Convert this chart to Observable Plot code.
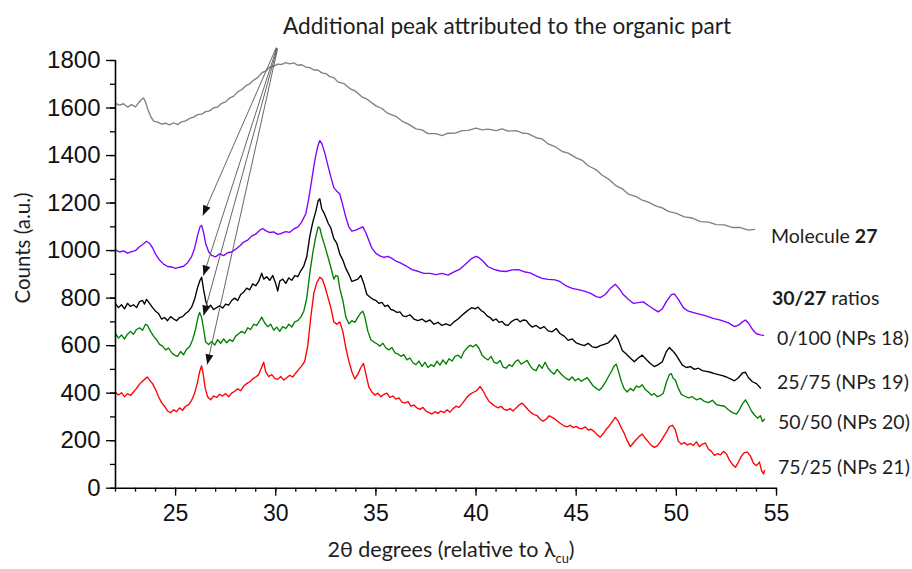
<!DOCTYPE html>
<html>
<head>
<meta charset="utf-8">
<script src="https://cdn.jsdelivr.net/npm/d3@7"></script>
<script src="https://cdn.jsdelivr.net/npm/@observablehq/plot@0.6"></script>
<style>
  html, body { margin: 0; padding: 0; background: #fff; }
  #wrap { position: relative; width: 912px; height: 569px; overflow: hidden; }
  .lbl { position: absolute; font-family: Lato, "Open Sans", sans-serif; color: #1e1e1e; line-height: 1; white-space: nowrap; transform: translateY(-50%); }
</style>
</head>
<body>
<div id="wrap"></div>
<script>
// ---- Data (2θ degrees, counts) ----
const molecule27 = [[22.0,1620],[22.2,1612],[22.4,1618],[22.6,1604],[22.8,1614],[23.0,1605],[23.15,1622],[23.3,1636],[23.4,1642],[23.5,1626],[23.6,1598],[23.75,1566],[23.9,1545],[24.1,1541],[24.3,1532],[24.5,1536],[24.7,1529],[24.9,1538],[25.1,1530],[25.3,1542],[25.5,1546],[25.7,1556],[25.9,1562],[26.1,1572],[26.3,1574],[26.5,1585],[26.7,1588],[26.9,1601],[27.1,1604],[27.3,1620],[27.5,1626],[27.7,1642],[27.9,1650],[28.1,1668],[28.3,1677],[28.5,1693],[28.7,1702],[28.9,1718],[29.1,1728],[29.3,1748],[29.5,1756],[29.7,1772],[29.9,1776],[30.1,1785],[30.3,1784],[30.5,1791],[30.7,1786],[30.9,1790],[31.1,1780],[31.3,1782],[31.5,1772],[31.7,1770],[31.9,1760],[32.1,1760],[32.3,1748],[32.5,1745],[32.7,1732],[32.9,1728],[33.1,1710],[33.4,1703],[33.7,1682],[34.0,1670],[34.3,1647],[34.6,1635],[35.0,1609],[35.3,1598],[35.6,1577],[36.0,1565],[36.3,1545],[36.6,1533],[37.0,1512],[37.3,1508],[37.6,1492],[38.0,1492],[38.3,1484],[38.6,1494],[39.0,1495],[39.3,1505],[39.6,1506],[40.0,1515],[40.3,1508],[40.6,1511],[41.0,1505],[41.3,1512],[41.6,1503],[42.0,1505],[42.3,1495],[42.6,1492],[43.0,1475],[43.3,1470],[43.6,1449],[44.0,1435],[44.3,1417],[44.6,1410],[45.0,1390],[45.3,1380],[45.6,1357],[46.0,1340],[46.3,1317],[46.6,1302],[47.0,1272],[47.3,1260],[47.6,1238],[48.0,1227],[48.3,1212],[48.6,1204],[49.0,1187],[49.3,1180],[49.6,1165],[50.0,1157],[50.4,1142],[50.8,1137],[51.2,1122],[51.6,1120],[52.0,1109],[52.4,1108],[52.8,1097],[53.2,1097],[53.6,1086],[53.9,1089]];

const nps18 = [[22.0,1003],[22.2,994],[22.4,999],[22.6,989],[22.8,996],[23.0,1000],[23.2,1016],[23.4,1029],[23.55,1039],[23.7,1030],[23.85,1012],[24.0,985],[24.2,960],[24.4,943],[24.6,933],[24.8,931],[25.0,925],[25.2,930],[25.4,934],[25.6,949],[25.8,975],[25.95,1010],[26.1,1065],[26.22,1100],[26.3,1106],[26.4,1075],[26.5,1030],[26.65,995],[26.8,980],[27.0,974],[27.2,986],[27.4,979],[27.6,991],[27.8,994],[28.0,1006],[28.2,1019],[28.4,1036],[28.6,1044],[28.8,1061],[29.0,1069],[29.2,1086],[29.35,1093],[29.5,1084],[29.7,1076],[29.9,1079],[30.1,1068],[30.3,1073],[30.5,1080],[30.7,1077],[30.9,1091],[31.1,1099],[31.3,1121],[31.5,1155],[31.65,1220],[31.8,1300],[31.95,1380],[32.1,1440],[32.2,1463],[32.3,1450],[32.45,1410],[32.6,1360],[32.75,1310],[32.9,1265],[33.05,1250],[33.2,1238],[33.35,1190],[33.5,1140],[33.65,1100],[33.8,1082],[34.0,1086],[34.15,1092],[34.35,1100],[34.5,1075],[34.65,1042],[34.8,1010],[35.0,988],[35.2,978],[35.4,971],[35.6,976],[35.8,967],[36.0,956],[36.2,949],[36.5,936],[36.8,920],[37.1,913],[37.4,904],[37.7,904],[38.0,899],[38.3,904],[38.6,897],[38.9,910],[39.2,922],[39.5,945],[39.75,965],[40.0,976],[40.15,970],[40.35,955],[40.6,932],[40.9,921],[41.2,914],[41.5,912],[41.8,919],[42.1,920],[42.4,911],[42.7,906],[43.0,894],[43.3,883],[43.6,879],[43.95,877],[44.2,869],[44.5,851],[44.8,841],[45.1,836],[45.4,829],[45.7,821],[46.0,806],[46.2,802],[46.45,815],[46.7,840],[46.95,858],[47.15,840],[47.35,815],[47.6,795],[47.85,778],[48.1,781],[48.35,784],[48.6,769],[48.85,755],[49.1,742],[49.3,755],[49.5,785],[49.75,815],[49.9,818],[50.1,795],[50.35,760],[50.6,745],[51.0,736],[51.4,727],[51.8,716],[52.2,707],[52.6,696],[52.9,680],[53.1,686],[53.3,700],[53.45,708],[53.6,695],[53.8,668],[54.0,650],[54.2,645],[54.35,643]];

const nps19 = [[22.0,776],[22.15,760],[22.3,772],[22.45,755],[22.6,778],[22.75,765],[22.9,772],[23.05,760],[23.2,785],[23.35,790],[23.45,775],[23.55,795],[23.7,778],[23.85,760],[24.0,745],[24.15,735],[24.3,712],[24.45,718],[24.6,705],[24.75,722],[24.9,712],[25.05,705],[25.2,718],[25.35,722],[25.5,735],[25.65,745],[25.8,762],[25.95,795],[26.1,845],[26.22,875],[26.3,888],[26.4,835],[26.5,790],[26.6,760],[26.75,770],[26.9,752],[27.05,760],[27.2,768],[27.35,758],[27.5,775],[27.65,770],[27.8,790],[27.95,800],[28.1,790],[28.25,815],[28.4,825],[28.55,842],[28.7,835],[28.85,860],[29.0,852],[29.15,870],[29.3,905],[29.4,880],[29.55,890],[29.7,875],[29.85,895],[30.0,860],[30.1,830],[30.2,872],[30.35,880],[30.5,862],[30.65,885],[30.8,875],[30.95,895],[31.1,890],[31.25,915],[31.4,935],[31.55,975],[31.7,1060],[31.85,1120],[32.0,1165],[32.12,1210],[32.2,1218],[32.3,1175],[32.4,1160],[32.5,1140],[32.62,1115],[32.75,1095],[32.9,1050],[33.05,1030],[33.2,985],[33.35,960],[33.5,925],[33.65,900],[33.8,870],[33.95,875],[34.1,880],[34.25,895],[34.4,860],[34.55,815],[34.7,805],[34.85,795],[35.0,790],[35.15,778],[35.3,782],[35.45,765],[35.6,770],[35.75,752],[35.9,748],[36.05,740],[36.2,742],[36.35,725],[36.5,722],[36.7,730],[36.9,712],[37.1,705],[37.3,712],[37.5,700],[37.7,708],[37.9,690],[38.1,698],[38.3,685],[38.5,692],[38.7,684],[38.9,700],[39.1,712],[39.3,728],[39.5,742],[39.65,752],[39.8,760],[39.95,755],[40.1,762],[40.25,748],[40.4,740],[40.55,725],[40.7,718],[40.85,705],[41.0,712],[41.15,698],[41.3,702],[41.45,688],[41.6,685],[41.75,700],[41.9,708],[42.05,712],[42.2,700],[42.35,708],[42.5,706],[42.65,690],[42.8,678],[43.0,685],[43.2,672],[43.4,680],[43.6,662],[43.8,658],[44.0,672],[44.2,650],[44.4,640],[44.6,622],[44.8,628],[45.0,612],[45.2,605],[45.4,600],[45.6,610],[45.8,595],[46.0,592],[46.2,600],[46.4,605],[46.6,612],[46.8,628],[46.95,645],[47.1,625],[47.3,580],[47.5,565],[47.7,548],[47.9,532],[48.1,548],[48.3,560],[48.5,542],[48.7,525],[48.9,512],[49.1,520],[49.3,532],[49.5,575],[49.65,592],[49.8,580],[49.95,565],[50.1,545],[50.3,518],[50.5,508],[50.7,512],[50.9,500],[51.1,505],[51.3,495],[51.5,492],[51.7,488],[51.9,482],[52.1,478],[52.3,474],[52.5,468],[52.7,460],[52.9,452],[53.1,465],[53.3,485],[53.45,488],[53.6,465],[53.8,448],[54.0,440],[54.2,422]];

const nps20 = [[22.0,650],[22.15,632],[22.3,645],[22.45,628],[22.6,648],[22.75,660],[22.9,648],[23.05,668],[23.2,675],[23.35,665],[23.5,690],[23.6,685],[23.75,660],[23.9,640],[24.05,625],[24.2,605],[24.35,598],[24.5,582],[24.65,590],[24.8,570],[24.95,560],[25.1,555],[25.25,575],[25.4,562],[25.55,585],[25.7,595],[25.85,625],[26.0,670],[26.12,720],[26.2,740],[26.3,718],[26.4,670],[26.5,615],[26.65,605],[26.8,618],[26.95,602],[27.1,625],[27.25,610],[27.4,628],[27.55,612],[27.7,625],[27.85,618],[28.0,640],[28.15,650],[28.3,660],[28.45,652],[28.6,675],[28.75,668],[28.9,690],[29.05,685],[29.2,705],[29.3,720],[29.45,695],[29.6,680],[29.75,690],[29.9,665],[30.05,678],[30.2,660],[30.35,680],[30.5,672],[30.65,690],[30.8,678],[30.95,700],[31.1,705],[31.25,720],[31.4,745],[31.55,800],[31.7,905],[31.85,990],[32.0,1060],[32.12,1100],[32.2,1095],[32.3,1060],[32.45,1020],[32.6,975],[32.75,930],[32.9,880],[33.0,895],[33.1,892],[33.2,840],[33.35,790],[33.5,720],[33.65,692],[33.8,705],[33.95,698],[34.1,720],[34.25,738],[34.35,745],[34.45,720],[34.6,660],[34.75,625],[34.9,615],[35.05,608],[35.2,598],[35.35,610],[35.5,590],[35.65,582],[35.8,592],[35.95,570],[36.1,565],[36.25,555],[36.4,562],[36.55,540],[36.7,548],[36.85,528],[37.0,520],[37.15,535],[37.3,512],[37.45,530],[37.6,508],[37.75,520],[37.9,512],[38.05,535],[38.2,518],[38.35,540],[38.5,522],[38.65,545],[38.8,535],[38.95,555],[39.1,560],[39.25,548],[39.4,575],[39.55,590],[39.7,602],[39.85,595],[40.0,605],[40.15,588],[40.3,560],[40.45,548],[40.6,540],[40.75,555],[40.9,530],[41.05,525],[41.2,538],[41.35,510],[41.5,505],[41.65,520],[41.8,512],[41.95,532],[42.1,540],[42.25,522],[42.4,530],[42.55,538],[42.7,515],[42.85,500],[43.0,495],[43.15,520],[43.3,505],[43.45,530],[43.6,505],[43.75,490],[43.9,480],[44.05,500],[44.2,485],[44.35,472],[44.5,462],[44.65,455],[44.8,468],[44.95,452],[45.1,462],[45.25,450],[45.4,458],[45.55,465],[45.7,448],[45.85,430],[46.0,420],[46.15,412],[46.3,425],[46.45,445],[46.6,468],[46.75,490],[46.9,515],[47.0,522],[47.1,495],[47.25,450],[47.4,418],[47.55,405],[47.7,420],[47.85,410],[48.0,430],[48.15,425],[48.3,435],[48.45,415],[48.6,405],[48.75,392],[48.9,398],[49.05,385],[49.2,390],[49.35,400],[49.5,445],[49.65,478],[49.75,482],[49.85,462],[49.95,455],[50.1,420],[50.25,395],[50.4,388],[50.6,380],[50.8,385],[51.0,372],[51.2,378],[51.4,365],[51.6,360],[51.8,370],[52.0,352],[52.2,348],[52.4,345],[52.6,330],[52.8,318],[53.0,312],[53.15,330],[53.3,355],[53.45,372],[53.6,350],[53.75,325],[53.9,308],[54.05,295],[54.2,305],[54.3,280],[54.4,290]];

const nps21 = [[22.0,404],[22.15,392],[22.3,402],[22.45,385],[22.6,398],[22.75,390],[22.9,405],[23.05,420],[23.2,438],[23.35,450],[23.5,462],[23.6,468],[23.7,455],[23.85,440],[24.0,415],[24.15,385],[24.3,360],[24.45,345],[24.6,325],[24.75,318],[24.9,330],[25.05,322],[25.2,338],[25.35,328],[25.5,345],[25.65,352],[25.8,370],[25.95,400],[26.08,440],[26.2,490],[26.3,515],[26.38,480],[26.48,420],[26.6,385],[26.75,372],[26.9,388],[27.05,382],[27.2,395],[27.35,388],[27.5,398],[27.65,385],[27.8,400],[27.95,408],[28.1,418],[28.25,410],[28.4,430],[28.55,440],[28.7,448],[28.85,460],[29.0,468],[29.15,478],[29.3,510],[29.4,530],[29.5,490],[29.65,470],[29.8,478],[29.95,462],[30.1,458],[30.25,470],[30.4,455],[30.55,465],[30.7,475],[30.85,468],[31.0,485],[31.15,500],[31.3,515],[31.45,535],[31.6,600],[31.75,720],[31.9,820],[32.05,865],[32.2,888],[32.32,880],[32.45,850],[32.6,805],[32.75,760],[32.9,700],[33.05,690],[33.2,700],[33.35,660],[33.5,590],[33.65,535],[33.8,490],[33.95,460],[34.1,480],[34.25,508],[34.38,525],[34.5,480],[34.65,425],[34.8,405],[34.95,392],[35.1,400],[35.25,385],[35.4,395],[35.55,400],[35.7,382],[35.85,388],[36.0,375],[36.15,380],[36.3,362],[36.45,358],[36.6,365],[36.75,345],[36.9,350],[37.05,338],[37.2,332],[37.35,340],[37.5,325],[37.65,318],[37.8,312],[37.95,322],[38.1,315],[38.25,325],[38.4,318],[38.55,330],[38.7,320],[38.85,335],[39.0,345],[39.15,340],[39.3,355],[39.45,372],[39.6,388],[39.75,398],[39.9,405],[40.05,412],[40.2,428],[40.35,410],[40.5,385],[40.65,365],[40.8,355],[40.95,345],[41.1,338],[41.25,345],[41.4,332],[41.55,328],[41.7,335],[41.85,325],[42.0,338],[42.15,350],[42.3,358],[42.45,345],[42.6,330],[42.75,318],[42.9,310],[43.05,305],[43.2,290],[43.35,282],[43.5,290],[43.65,305],[43.8,298],[43.95,290],[44.1,280],[44.25,270],[44.4,262],[44.55,258],[44.7,265],[44.85,255],[45.0,260],[45.15,252],[45.3,250],[45.45,258],[45.6,245],[45.75,248],[45.9,238],[46.05,225],[46.2,215],[46.35,230],[46.5,248],[46.65,262],[46.8,280],[46.95,298],[47.1,282],[47.25,255],[47.4,230],[47.55,200],[47.7,175],[47.85,190],[48.0,205],[48.15,218],[48.3,228],[48.45,210],[48.6,195],[48.75,180],[48.9,172],[49.05,178],[49.2,195],[49.35,215],[49.5,235],[49.65,258],[49.8,265],[49.95,245],[50.1,198],[50.25,185],[50.4,192],[50.55,182],[50.7,188],[50.85,180],[51.0,195],[51.15,175],[51.3,185],[51.45,190],[51.6,165],[51.75,155],[51.9,138],[52.05,145],[52.2,140],[52.35,155],[52.5,145],[52.65,118],[52.8,100],[52.95,88],[53.1,110],[53.25,135],[53.4,150],[53.55,152],[53.7,135],[53.85,105],[54.0,95],[54.15,110],[54.25,75],[54.35,60],[54.4,75]];

const seriesNames = ["Molecule 27", "0/100 (NPs 18)", "25/75 (NPs 19)", "50/50 (NPs 20)", "75/25 (NPs 21)"];
const seriesColors = ["#808080", "#8000ff", "#000000", "#008000", "#ff0000"];
const seriesData = [molecule27, nps18, nps19, nps20, nps21];

// Annotation arrows: from the label point to the 26.3° peak of each NP curve
const arrowFromX = [30.03, 30.05, 30.07, 30.09];
const arrowFromY = [1855, 1853, 1851, 1849];
const arrowToX = [26.36, 26.39, 26.40, 26.58];
const arrowToY = [1148, 895, 727, 521];

const xMajorTicks = [25, 30, 35, 40, 45, 50, 55];
const xMinorTicks = d3.range(22, 56, 1);
const yMajorTicks = [0, 200, 400, 600, 800, 1000, 1200, 1400, 1600, 1800];
const yMinorTicks = d3.range(0, 1801, 100);

// ---- Build ----
const rows = seriesData.flatMap((pts, i) => pts.map(([x, y]) => ({x, y, s: seriesNames[i]})));
const arrows = arrowFromX.map((_, i) => ({x1: arrowFromX[i], y1: arrowFromY[i], x2: arrowToX[i], y2: arrowToY[i]}));

const axisFont = {fontFamily: "'Liberation Sans', Arial, sans-serif"};

const chart = Plot.plot({
  width: 912,
  height: 569,
  marginLeft: 115,
  marginRight: 136,
  marginTop: 60,
  marginBottom: 81.3,
  style: {background: "transparent", overflow: "visible"},
  x: {domain: [22, 55]},
  y: {domain: [0, 1800]},
  color: {domain: seriesNames, range: seriesColors},
  marks: [
    Plot.line(rows, {x: "x", y: "y", z: "s", stroke: "s", strokeWidth: 1.35}),
    Plot.link(arrows, {x1: "x1", y1: "y1", x2: "x2", y2: "y2", stroke: "#555", strokeWidth: 0.9, markerEnd: "arrow"}),
    Plot.axisX(xMinorTicks, {tickSize: 4, tickFormat: () => "", stroke: "#000", strokeWidth: 1.3, label: null}),
    Plot.axisX(xMajorTicks, {tickSize: 8, tickPadding: 8, tickFormat: d => String(d), stroke: "#000", strokeWidth: 1.3, fill: "#111", fontSize: 23, ...axisFont, label: null}),
    Plot.axisY(yMinorTicks, {tickSize: 5, tickFormat: () => "", stroke: "#000", strokeWidth: 1.3, label: null}),
    Plot.axisY(yMajorTicks, {tickSize: 9, tickPadding: 6, tickFormat: d => String(d), stroke: "#000", strokeWidth: 1.3, fill: "#111", fontSize: 24, ...axisFont, label: null}),
    Plot.ruleX([22], {stroke: "#000", strokeWidth: 1.6}),
    Plot.ruleY([0], {stroke: "#000", strokeWidth: 1.6})
  ]
});

// Filled triangular arrowheads like the original annotation
d3.select(chart).selectAll("marker")
  .attr("markerUnits", "userSpaceOnUse")
  .attr("viewBox", "-11 -5 12 10")
  .attr("markerWidth", 12)
  .attr("markerHeight", 10)
  .each(function() {
    const m = d3.select(this);
    m.selectAll("*").remove();
    m.append("path").attr("d", "M-10,-4L0,0L-10,4Z").attr("fill", "#111").attr("stroke", "none");
  });

const wrap = document.getElementById("wrap");
chart.style.position = "absolute";
chart.style.left = "0px";
chart.style.top = "0px";
wrap.appendChild(chart);

function addLabel(html, left, top, size, extra) {
  const d = document.createElement("div");
  d.className = "lbl";
  d.innerHTML = html;
  d.style.left = left + "px";
  d.style.top = top + "px";
  d.style.fontSize = size + "px";
  if (extra) Object.assign(d.style, extra);
  wrap.appendChild(d);
  return d;
}

addLabel("Additional peak attributed to the organic part", 283, 26, 22.6);
addLabel("Molecule <b>27</b>", 771, 236, 19.5);
addLabel("<b>30/27</b> ratios", 772, 298, 19.5);
addLabel(seriesNames[1], 777, 338, 19.5);
addLabel(seriesNames[2], 777, 382, 19.5);
addLabel(seriesNames[3], 778, 422, 19.5);
addLabel(seriesNames[4], 778, 467, 19.5);
addLabel("2θ degrees (relative to λ<sub style='font-size:0.6em'>cu</sub>)", 451, 552, 21.5, {transform: "translate(-50%,-50%)"});
addLabel("Counts (a.u.)", 22, 248, 20.5, {transform: "translate(-50%,-50%) rotate(-90deg)"});
</script>
</body>
</html>
